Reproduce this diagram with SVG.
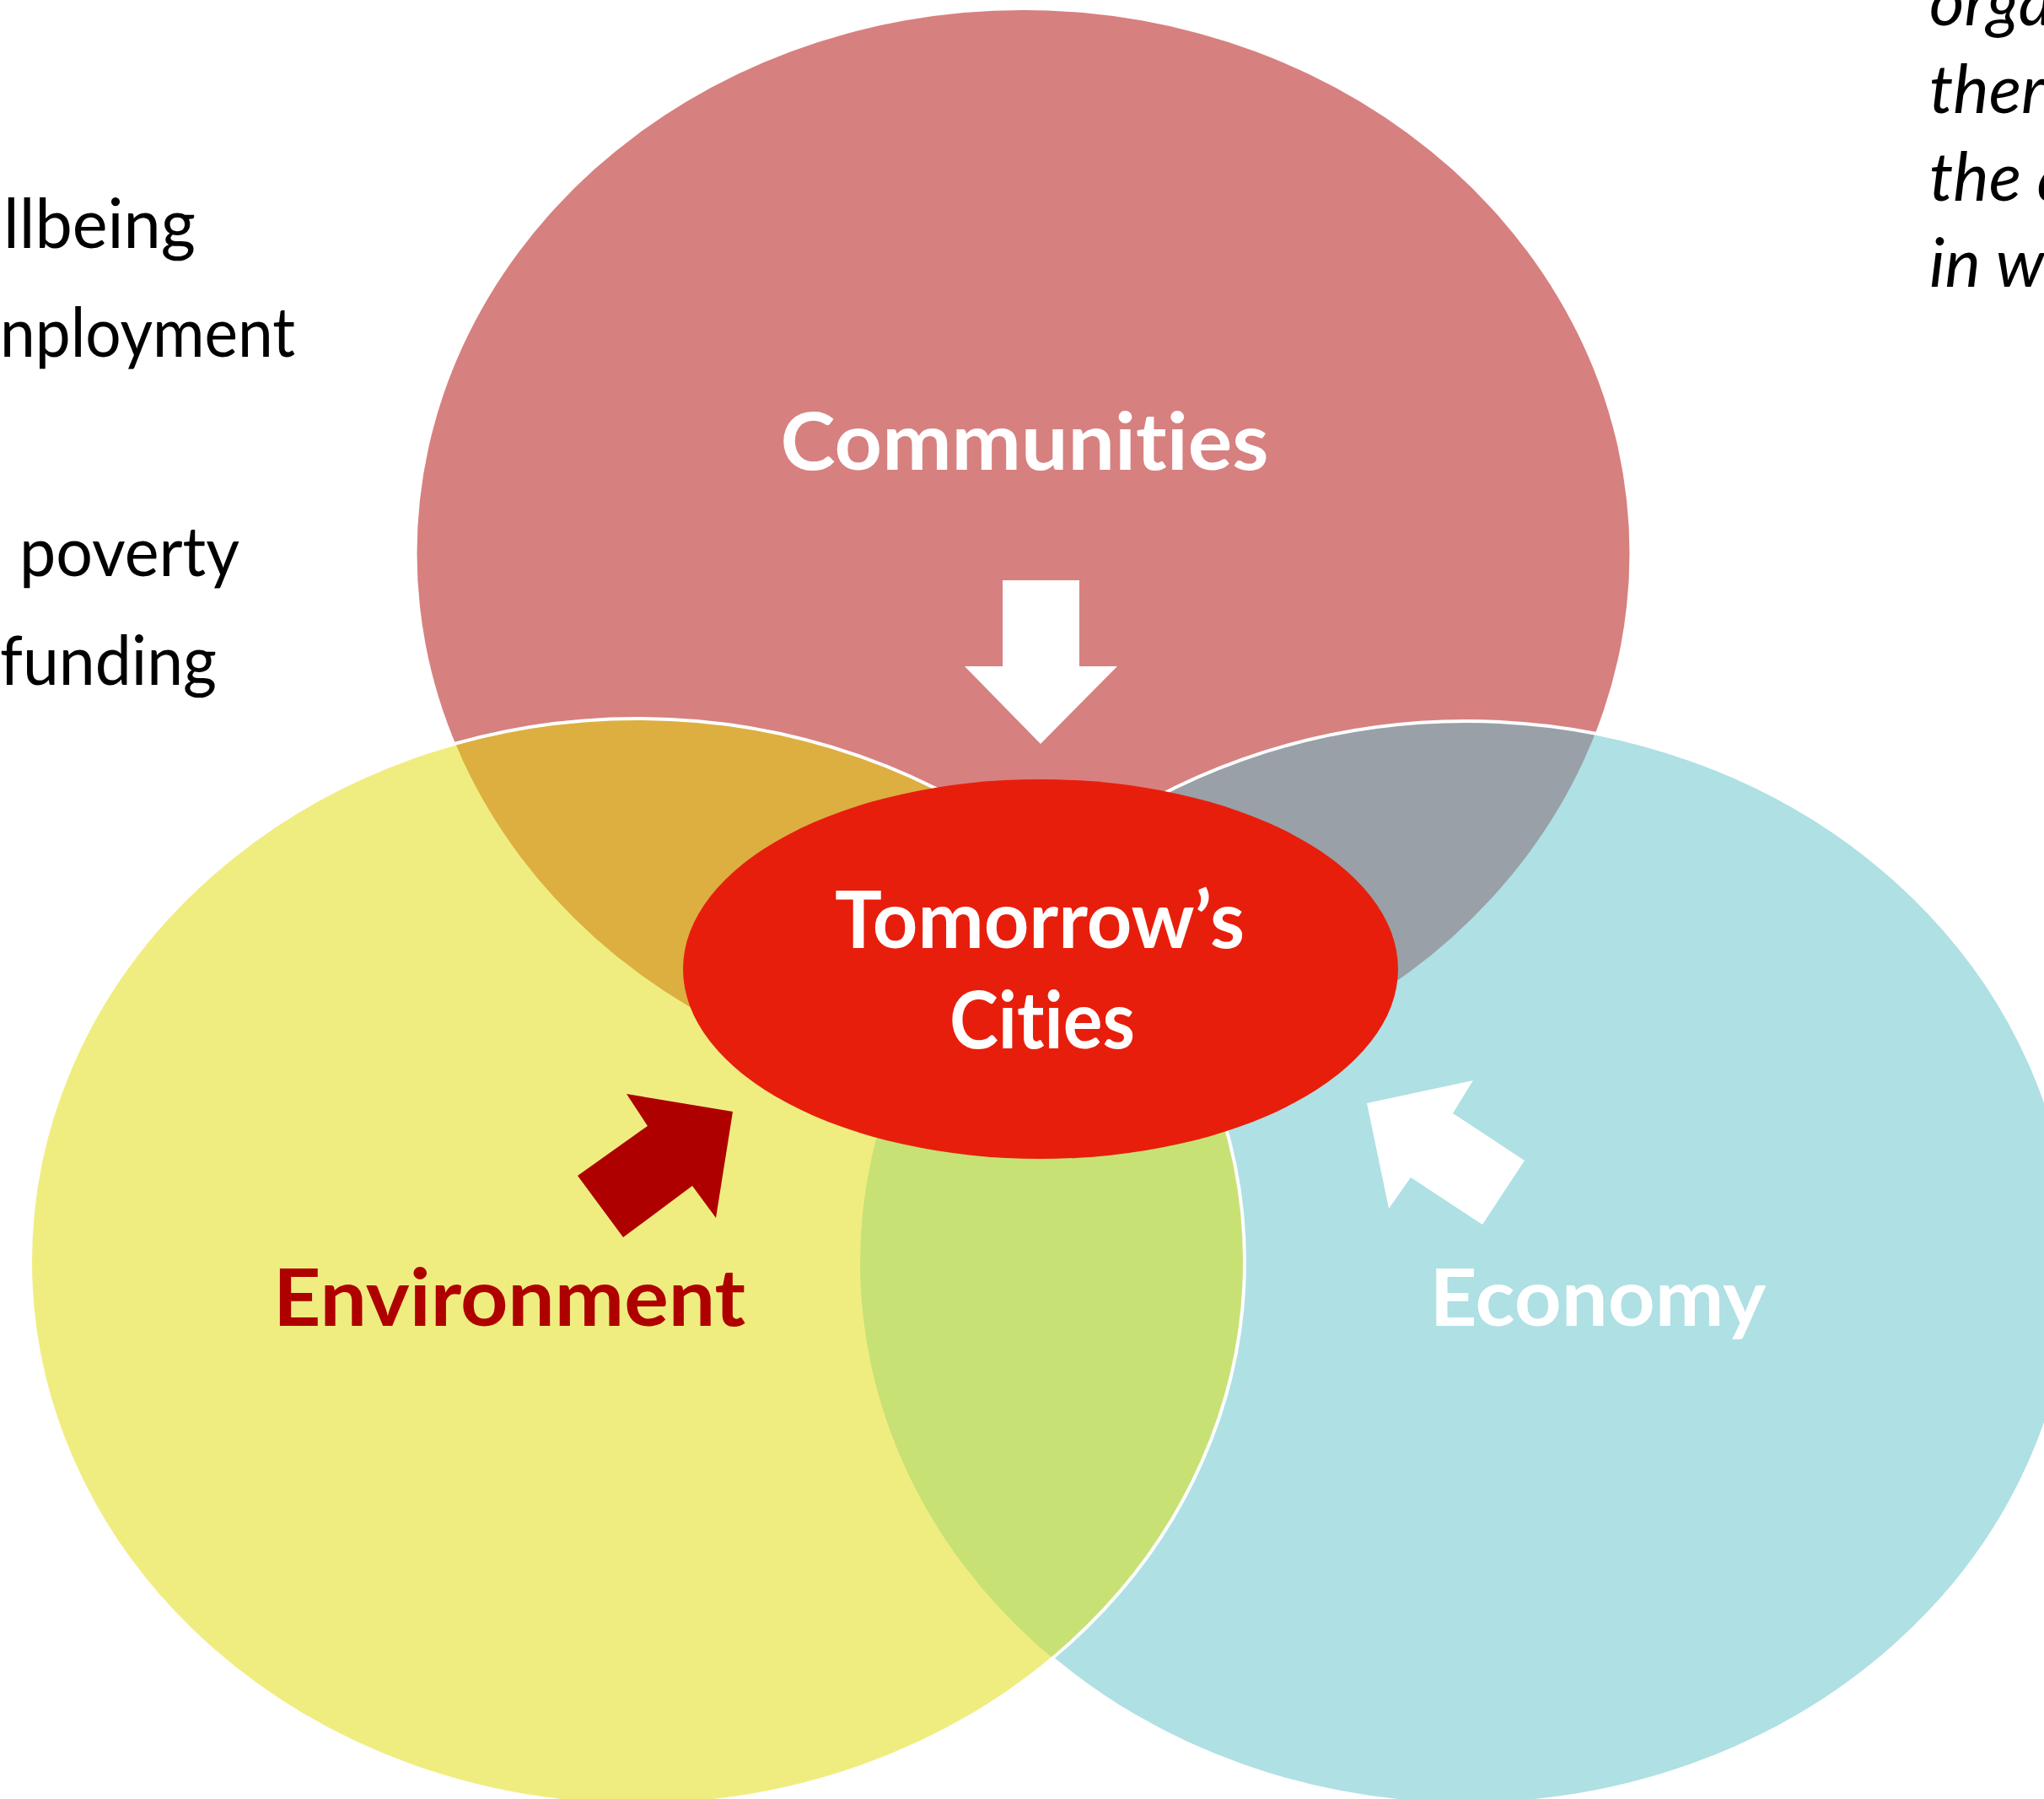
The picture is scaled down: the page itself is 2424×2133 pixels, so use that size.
<svg xmlns="http://www.w3.org/2000/svg" width="2424" height="2133" viewBox="0 0 2424 2133">
  <style>
    text { font-variant-ligatures: none; font-feature-settings: "liga" 0, "clig" 0; }
    .body { font-family: Lato, "Open Sans", sans-serif; font-size: 82px; fill: #000000; }
    .ital { font-family: Lato, "Open Sans", sans-serif; font-size: 80px; font-style: italic; fill: #000000; }
    .label { font-family: Lato, "Open Sans", sans-serif; font-size: 94px; font-weight: bold; text-anchor: middle; }
    .white { fill: #FFFFFF; }
    .dark { fill: #AF0000; }
    .ring { fill: none; stroke: #FFFFFF; stroke-width: 4; }
  </style>
  <defs>
    <clipPath id="clipY"><ellipse cx="756" cy="1496" rx="720" ry="644"/></clipPath>
    <clipPath id="clipC"><ellipse cx="1739" cy="1497" rx="719" ry="642"/></clipPath>
    <mask id="outsideY">
      <rect x="0" y="0" width="2424" height="2133" fill="#FFFFFF"/>
      <ellipse cx="756" cy="1496" rx="720" ry="644" fill="#000000"/>
    </mask>
  </defs>
  <rect x="0" y="0" width="2424" height="2133" fill="#FFFFFF"/>

  <g id="left-text" class="body">
    <text x="4" y="294" textLength="228" lengthAdjust="spacingAndGlyphs">llbeing</text>
    <text x="0" y="423" textLength="350" lengthAdjust="spacingAndGlyphs">nployment</text>
    <text x="23" y="683" textLength="261" lengthAdjust="spacingAndGlyphs">poverty</text>
    <text x="0" y="812" textLength="257" lengthAdjust="spacingAndGlyphs">funding</text>
  </g>

  <g id="right-text" class="ital">
    <text x="2288" y="30">orga</text>
    <text x="2288" y="134">ther</text>
    <text x="2288" y="238">the a</text>
    <text x="2288" y="340">in w</text>
  </g>

  <g id="communities">
    <ellipse cx="1213.5" cy="656" rx="719" ry="644" fill="#D78080"/>
  </g>
  <g id="economy">
    <ellipse cx="1739" cy="1497" rx="719" ry="642" fill="#AEE0E4"/>
  </g>
  <g id="environment">
    <ellipse cx="756" cy="1496" rx="720" ry="644" fill="#F0ED80"/>
  </g>

  <g id="overlaps">
    <ellipse cx="1213.5" cy="656" rx="719" ry="644" fill="#DCAF40" clip-path="url(#clipY)"/>
    <ellipse cx="1213.5" cy="656" rx="719" ry="644" fill="#99A0A7" clip-path="url(#clipC)"/>
    <ellipse cx="1739" cy="1497" rx="719" ry="642" fill="#C7E175" clip-path="url(#clipY)"/>
  </g>

  <g id="outlines">
    <ellipse class="ring" cx="1739" cy="1497" rx="719" ry="642" mask="url(#outsideY)"/>
    <ellipse class="ring" cx="756" cy="1496" rx="720" ry="644"/>
  </g>

  <g id="tomorrows-cities">
    <ellipse cx="1234" cy="1149" rx="424" ry="225" fill="#E81E0C"/>
    <text class="label white" x="1233" y="1124" textLength="486" lengthAdjust="spacingAndGlyphs">Tomorrow’s</text>
    <text class="label white" x="1236" y="1243" textLength="220" lengthAdjust="spacingAndGlyphs">Cities</text>
  </g>

  <g id="labels">
    <text class="label white" x="1215" y="557" textLength="579" lengthAdjust="spacingAndGlyphs">Communities</text>
    <text class="label dark" x="604" y="1572" textLength="560" lengthAdjust="spacingAndGlyphs">Environment</text>
    <text class="label white" x="1895" y="1572" textLength="399" lengthAdjust="spacingAndGlyphs">Economy</text>
  </g>

  <g id="connectors">
    <polygon fill="#FFFFFF" points="1189,688 1280,688 1280,790 1325,790 1234,882 1144,790 1189,790"/>
    <polygon fill="#AF0000" points="743,1297 869,1318 849,1444 821,1406 739,1467 685,1394 768,1335"/>
    <polygon fill="#FFFFFF" points="1621,1308 1747,1281 1723,1320 1808,1376 1758,1452 1673,1396 1647,1433"/>
  </g>
</svg>
